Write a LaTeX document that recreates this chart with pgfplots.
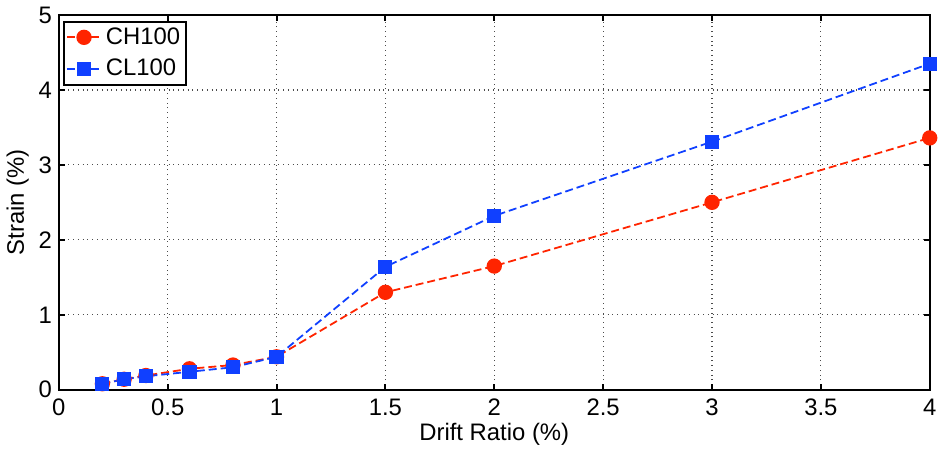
\documentclass[border=0pt]{standalone}
\usepackage{pgfplots}
\pgfplotsset{compat=1.18}
\usepackage{fontspec}
\setmainfont{Liberation Sans}
\definecolor{mred}{RGB}{255,36,0}
\definecolor{mblue}{RGB}{16,64,255}
\begin{document}
\begin{tikzpicture}
\begin{axis}[
  scale only axis,
  width=438pt, height=188.5pt,
  xmin=0, xmax=4, ymin=0, ymax=5,
  xtick={0,0.5,...,4}, ytick={0,1,...,5},
  xticklabels={0,0.5,1,1.5,2,2.5,3,3.5,4},
  yticklabels={0,1,2,3,4,5},
  tick align=inside,
  major tick length=3pt,
  axis line style={line width=1pt},
  every tick/.style={black, line width=1pt},
  grid=major,
  major grid style={black!70, dotted, line width=0.6pt},
  xlabel={Drift Ratio (\%)},
  ylabel={Strain (\%)},
  label style={font=\fontsize{12}{14}\selectfont},
  tick label style={font=\fontsize{12}{14}\selectfont},
  xticklabel style={yshift=-1pt},
  xlabel style={yshift=3pt},
  ylabel style={yshift=-2pt},
  legend style={at={(0.005,0.985)}, anchor=north west, draw=black, line width=1pt,
    font=\fontsize{12}{14}\selectfont, inner sep=1pt, row sep=2pt},
  legend cell align=left,
]
\addplot[mred, dash pattern=on 4pt off 2pt, line width=0.9pt, mark=*, mark size=3.4pt,
  mark options={solid, fill=mred, draw=mred}]
  coordinates {(0.2,0.08) (0.3,0.14) (0.4,0.19) (0.6,0.28) (0.8,0.33) (1.0,0.44)
  (1.5,1.30) (2.0,1.65) (3.0,2.50) (4.0,3.36)};
\addlegendentry{CH100}
\addplot[mblue, dash pattern=on 4pt off 2pt, line width=0.9pt, mark=square*, mark size=3.1pt,
  mark options={solid, fill=mblue, draw=mblue}]
  coordinates {(0.2,0.08) (0.3,0.14) (0.4,0.18) (0.6,0.24) (0.8,0.30) (1.0,0.44)
  (1.5,1.64) (2.0,2.32) (3.0,3.31) (4.0,4.35)};
\addlegendentry{CL100}
\end{axis}
\end{tikzpicture}
\end{document}
